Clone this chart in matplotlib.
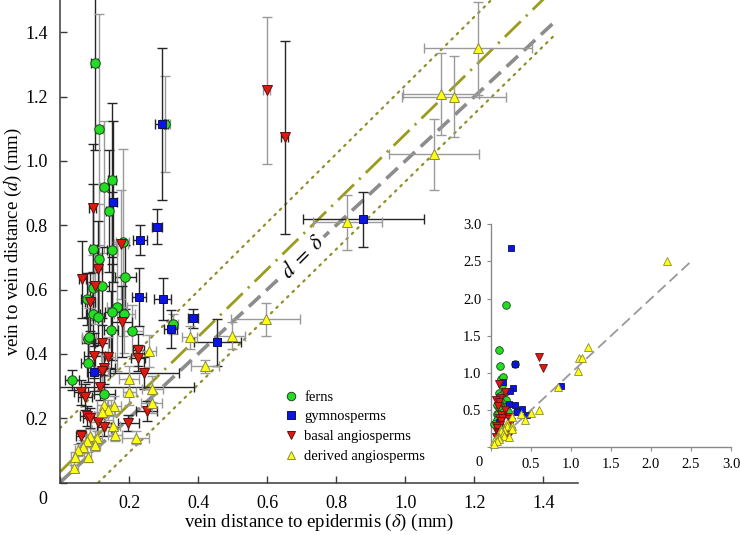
import matplotlib
matplotlib.use('Agg')
import matplotlib.pyplot as plt
import numpy as np
from matplotlib.lines import Line2D

plt.rcParams['font.family'] = ['Liberation Serif', 'DejaVu Serif']
plt.rcParams['mathtext.fontset'] = 'stix'

# ---------------- data (x = delta, y = d, in mm) ----------------
# ferns
fern_x = [0.101, 0.114, 0.128, 0.151, 0.142, 0.181, 0.096, 0.150, 0.113, 0.189,
          0.122, 0.095, 0.077, 0.165, 0.150, 0.186, 0.095, 0.111, 0.328, 0.148,
          0.209, 0.080, 0.084, 0.080, 0.034, 0.128, 0.304, 0.183]
fern_y = [1.303, 1.098, 0.920, 0.941, 0.844, 0.747, 0.727, 0.723, 0.695, 0.640,
          0.611, 0.606, 0.570, 0.547, 0.530, 0.524, 0.523, 0.516, 0.493, 0.474,
          0.472, 0.445, 0.453, 0.373, 0.319, 0.274, 1.115, 1.916]
fern_xerr = [0.010, 0.010, 0.012, 0.012, 0.010, 0.020, 0.010, 0.015, 0.010, 0.030,
             0.020, 0.015, 0.015, 0.030, 0.020, 0.030, 0.020, 0.015, 0.015, 0.020,
             0.030, 0.015, 0.020, 0.020, 0.020, 0.030, 0.015, 0.020]
fern_yerr = [0.27, 0.36, 0.205, 0.24, 0.19, 0.29, 0.20, 0.18, 0.17, 0.10,
             0.12, 0.10, 0.08, 0.20, 0.15, 0.12, 0.10, 0.09, 0.03, 0.12,
             0.08, 0.07, 0.09, 0.06, 0.03, 0.06, 0.15, 0.30]
fern_ecol = ['k', 'g', 'g', 'k', 'k', 'g', 'k', 'k', 'g', 'k',
             'k', 'g', 'k', 'g', 'k', 'g', 'k', 'k', 'g', 'k',
             'g', 'k', 'g', 'k', 'k', 'k', 'g', 'k']

# gymnosperms
gym_x = [0.294, 0.154, 0.281, 0.232, 0.229, 0.297, 0.386, 0.320, 0.455, 0.098, 0.878, 0.250]
gym_y = [1.115, 0.873, 0.795, 0.754, 0.578, 0.571, 0.511, 0.477, 0.436, 0.343, 0.818, 2.687]
gym_xerr = [0.020, 0.012, 0.015, 0.020, 0.020, 0.025, 0.015, 0.020, 0.068, 0.020, 0.175, 0.020]
gym_yerr = [0.236, 0.25, 0.054, 0.048, 0.09, 0.065, 0.03, 0.06, 0.073, 0.06, 0.085, 0.30]
gym_ecol = ['k'] * 12

# basal angiosperms
bas_x = [0.095, 0.176, 0.111, 0.065, 0.101, 0.086, 0.179, 0.122, 0.227, 0.099,
         0.140, 0.227, 0.128, 0.121, 0.244, 0.116, 0.061, 0.072, 0.251, 0.079,
         0.087, 0.109, 0.198, 0.127, 0.061, 0.599, 0.651]
bas_y = [0.853, 0.741, 0.664, 0.632, 0.612, 0.560, 0.500, 0.433, 0.412, 0.394,
         0.391, 0.386, 0.355, 0.348, 0.340, 0.296, 0.280, 0.265, 0.222, 0.207,
         0.201, 0.189, 0.184, 0.174, 0.144, 1.219, 1.073]
bas_xerr = [0.010, 0.020, 0.010, 0.010, 0.015, 0.015, 0.030, 0.020, 0.015, 0.030,
            0.020, 0.020, 0.030, 0.020, 0.100, 0.273, 0.020, 0.020, 0.030, 0.020,
            0.020, 0.020, 0.030, 0.020, 0.015, 0.010, 0.010]
bas_yerr = [0.20, 0.17, 0.15, 0.12, 0.12, 0.09, 0.11, 0.08, 0.05, 0.07,
            0.06, 0.04, 0.05, 0.05, 0.05, 0.04, 0.04, 0.04, 0.03, 0.03,
            0.03, 0.03, 0.025, 0.03, 0.02, 0.23, 0.30]
bas_ecol = ['k', 'g', 'k', 'k', 'g', 'k', 'k', 'k', 'k', 'k',
            'g', 'k', 'k', 'g', 'k', 'k', 'k', 'k', 'k', 'k',
            'k', 'g', 'k', 'k', 'k', 'g', 'k']

# derived angiosperms
der_x = [1.211, 1.102, 1.141, 1.082, 0.832, 0.596, 0.497, 0.376, 0.420, 0.257,
         0.200, 0.201, 0.267, 0.265, 0.128, 0.157, 0.140, 0.121, 0.154, 0.159,
         0.219, 0.087, 0.106, 0.077, 0.101, 0.067, 0.053, 0.043, 0.080, 0.041, 2.204]
der_y = [1.350, 1.208, 1.200, 1.021, 0.809, 0.507, 0.456, 0.451, 0.362, 0.409,
         0.321, 0.282, 0.290, 0.246, 0.241, 0.239, 0.225, 0.220, 0.176, 0.148,
         0.139, 0.145, 0.139, 0.130, 0.117, 0.111, 0.101, 0.080, 0.080, 0.044, 2.508]
der_xerr = [0.157, 0.110, 0.150, 0.130, 0.100, 0.100, 0.040, 0.022, 0.040, 0.020,
            0.030, 0.020, 0.030, 0.030, 0.020, 0.020, 0.020, 0.015, 0.020, 0.020,
            0.040, 0.015, 0.015, 0.015, 0.015, 0.010, 0.010, 0.010, 0.010, 0.010, 0.10]
der_yerr = [0.145, 0.128, 0.126, 0.110, 0.085, 0.052, 0.042, 0.035, 0.020, 0.050,
            0.040, 0.040, 0.040, 0.030, 0.030, 0.030, 0.030, 0.020, 0.030, 0.020,
            0.020, 0.020, 0.020, 0.020, 0.020, 0.020, 0.020, 0.015, 0.015, 0.010, 0.10]
der_ecol = ['g'] * 31

# reference lines: identity and fitted line with bounds (intercept, slope, x-range)
ident_range = [0.0, 1.438]
fit_line = (0.033, 1.050, 0.0, 1.45)
fit_upper = (0.169, 1.066, 0.0, 1.30)
fit_lower = (-0.117, 1.053, 0.111, 1.438)
inset_ident_range = [0.0, 2.5]

main_ticks = [0.2, 0.4, 0.6, 0.8, 1.0, 1.2, 1.4]
inset_ticks = [0.5, 1.0, 1.5, 2.0, 2.5, 3.0]

groups = [
    ('ferns', fern_x, fern_y, fern_xerr, fern_yerr, fern_ecol, 'o', '#22dd22', '#224422', 6.8),
    ('gymnosperms', gym_x, gym_y, gym_xerr, gym_yerr, gym_ecol, 's', '#0a14e6', '#101050', 5.8),
    ('basal angiosperms', bas_x, bas_y, bas_xerr, bas_yerr, bas_ecol, 'v', '#dd1a10', '#601010', 6.6),
    ('derived angiosperms', der_x, der_y, der_xerr, der_yerr, der_ecol, '^', '#ffff10', '#8a8a40', 6.6),
]
ecolors = {'k': '#262626', 'g': '#9a9a9a'}

# ---------------- figure ----------------
W, H = 740, 535
fig = plt.figure(figsize=(W / 100, H / 100), dpi=100)
ax = fig.add_axes([60 / W, (H - 482.5) / H, 518 / W, 482.4 / H])
ax.set_xlim(0, 1.5)
ax.set_ylim(0, 1.5)

# reference lines
ax.plot(ident_range, ident_range, color='#8c8c8c', lw=2.6, dashes=(4.3, 2.2), zorder=1.5,
        solid_capstyle='butt', dash_capstyle='butt')
for (b, m, x0, x1), st in [(fit_line, 'dashdot'), (fit_upper, 'dot'), (fit_lower, 'dot')]:
    xs = np.array([x0, x1])
    ys = b + m * xs
    if st == 'dashdot':
        ax.plot(xs, ys, color='#9b9b1c', lw=2.0, dashes=(8, 2.6, 0.8, 2.6), zorder=1.5,
                dash_capstyle='butt')
    else:
        ax.plot(xs, ys, color='#8f8f2a', lw=1.6, dashes=(0.8, 2.6), zorder=1.5,
                dash_capstyle='round')

# error bars
for name, xs, ys, xe, ye, ec, mk, fc, mec, ms in groups:
    for i in range(len(xs)):
        ax.errorbar(xs[i], ys[i], xerr=xe[i], yerr=ye[i], fmt='none',
                    ecolor=ecolors[ec[i]], elinewidth=1.0, capsize=3.5, capthick=1.0,
                    zorder=2)
# markers
handles = []
for name, xs, ys, xe, ye, ec, mk, fc, mec, ms in groups:
    ax.plot(xs, ys, ls='none', marker=mk, ms=ms, mfc=fc, mec=mec, mew=0.7, zorder=3)
    handles.append(Line2D([], [], ls='none', marker=mk, ms=ms - 0.7, mfc=fc, mec=mec,
                          mew=0.7, label=name))

ax.text(0.705, 0.70, r'$d\;=\;\delta$', fontsize=15.5, rotation=45, ha='center', va='center',
        zorder=1.8, bbox=dict(boxstyle='square,pad=0.12', fc='white', ec='none'))

for s in ['top', 'right']:
    ax.spines[s].set_visible(False)
for s in ['left', 'bottom']:
    ax.spines[s].set_color('#3a3a3a')
    ax.spines[s].set_linewidth(1.1)

ax.set_xticks([0] + main_ticks)
ax.set_xticklabels([''] + [f'{t:.1f}' for t in main_ticks])
ax.set_yticks([0] + main_ticks)
ax.set_yticklabels([''] + [f'{t:.1f}' for t in main_ticks])
ax.tick_params(axis='both', direction='in', length=5, width=1, color='#3a3a3a', labelsize=13)
ax.tick_params(axis='x', pad=9)
ax.tick_params(axis='y', pad=9)
fig.text(43 / W, 1 - 500 / H, '0', ha='center', va='center', fontsize=13)

ax.set_xlabel(r'vein distance to epidermis ($\delta$) (mm)', fontsize=13.5, labelpad=0)
ax.set_ylabel(r'vein to vein distance ($d$) (mm)', fontsize=13.5, labelpad=1)

leg = ax.legend(handles=handles, loc='upper left', bbox_to_anchor=(283.7 / W, 1 - 390.5 / H),
                bbox_transform=fig.transFigure, frameon=False, fontsize=10.5,
                borderpad=0, borderaxespad=0, handlelength=1.0, handletextpad=0.4,
                labelspacing=0.45)

# ---------------- inset ----------------
ax2 = fig.add_axes([491 / W, (H - 447.3) / H, 240 / W, 223 / H])
ax2.set_xlim(0, 3)
ax2.set_ylim(0, 3)
ax2.patch.set_alpha(0)
ax2.plot(inset_ident_range, inset_ident_range, color='#999999', lw=1.3, dashes=(6, 3), zorder=1)
for name, xs, ys, xe, ye, ec, mk, fc, mec, ms in groups:
    ax2.plot(xs, ys, ls='none', marker=mk, ms=ms - 1.3, mfc=fc, mec=mec, mew=0.6, zorder=3,
             clip_on=False)
for s in ['top', 'right']:
    ax2.spines[s].set_visible(False)
for s in ['left', 'bottom']:
    ax2.spines[s].set_color('#8a8a8a')
    ax2.spines[s].set_linewidth(1.0)
ax2.set_xticks([0] + inset_ticks)
ax2.set_xticklabels([''] + [f'{t:.1f}' for t in inset_ticks])
ax2.set_yticks([0] + inset_ticks)
ax2.set_yticklabels([''] + [f'{t:.1f}' for t in inset_ticks])
ax2.tick_params(axis='both', direction='out', length=3, width=0.8, color='#8a8a8a',
                labelsize=10.5)
ax2.tick_params(axis='x', pad=5)
ax2.tick_params(axis='y', pad=4)
fig.text(479 / W, 1 - 462.7 / H, '0', ha='center', va='center', fontsize=10.5)

fig.savefig('out.png', dpi=100)
